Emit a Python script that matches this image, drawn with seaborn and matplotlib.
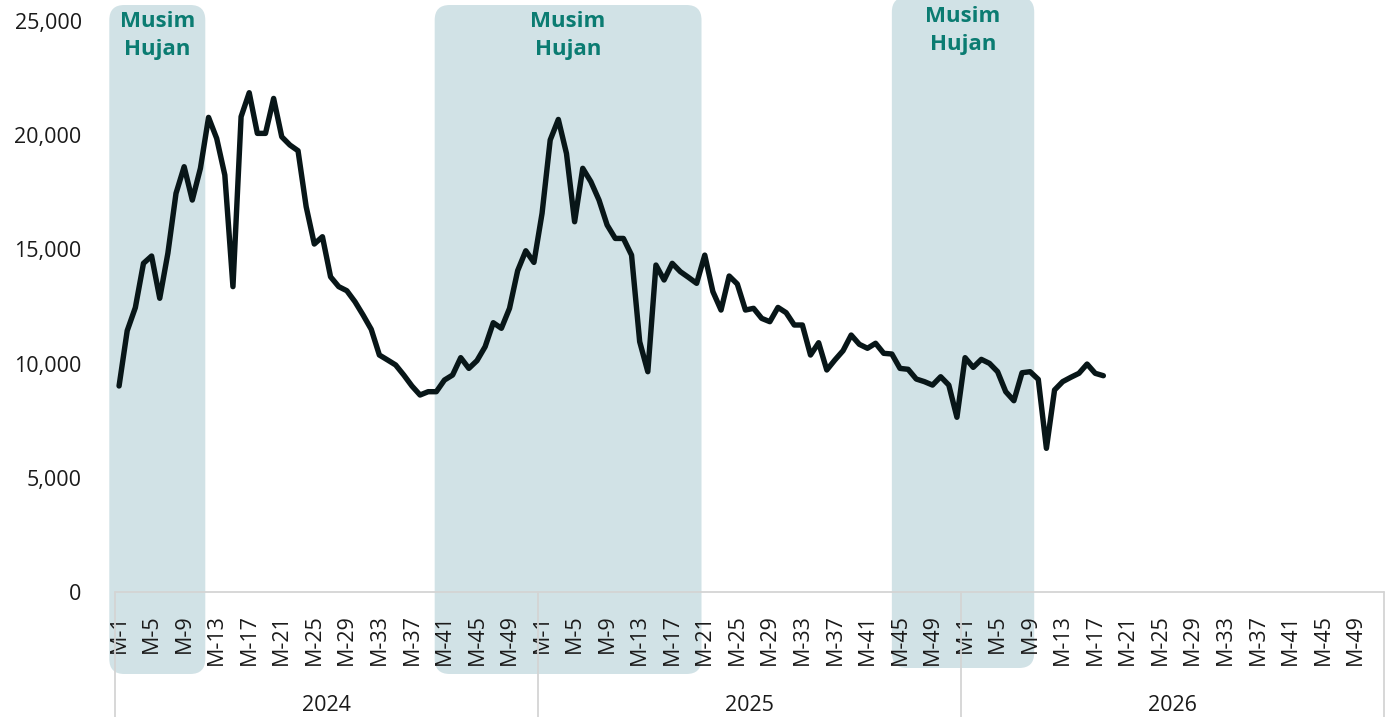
import numpy as np
import pandas as pd
import matplotlib
matplotlib.use("Agg")
import matplotlib.pyplot as plt
import seaborn as sns
from matplotlib.patches import FancyBboxPatch
from matplotlib.transforms import IdentityTransform, blended_transform_factory
from matplotlib.ticker import FuncFormatter

# Weekly values per year (M-1 ... M-52)
years = ["2024", "2025", "2026"]
weeks_per_year = 52
values_2024 = [9020, 11440, 12450, 14390, 14710, 12860, 14830, 17455, 18620, 17160,
               18550, 20780, 19860, 18255, 13370, 20810, 21860, 20080, 20080, 21610,
               19930, 19570, 19320, 16870, 15235, 15555, 13800, 13370, 13190, 12710,
               12125, 11500, 10375, 10160, 9940, 9500, 9020, 8625, 8770, 8770,
               9280, 9500, 10260, 9790, 10130, 10740, 11790, 11545, 12420, 14070,
               14940, 14430]
values_2025 = [16580, 19790, 20690, 19200, 16210, 18550, 17965, 17160, 16065, 15480,
               15480, 14750, 10960, 9645, 14315, 13660, 14390, 14025, 13775, 13515,
               14750, 13150, 12345, 13835, 13485, 12345, 12420, 11980, 11835, 12460,
               12230, 11690, 11690, 10375, 10915, 9720, 10160, 10565, 11250, 10845,
               10670, 10890, 10450, 10420, 9790, 9750, 9325, 9210, 9060, 9425,
               9060, 7650]
values_2026 = [10260, 9835, 10185, 10010, 9645, 8770, 8375, 9600, 9645, 9310,
               6290, 8845, 9210, 9400, 9575, 9980, 9575, 9470]

# Rainy seasons, as spans on the continuous week axis (0 = 2024 M-1)
season_label = "Musim\nHujan"
season_start = [-1.2, 38.8, 95.0]
season_end = [10.6, 71.6, 112.5]

y_ticks = [0, 5000, 10000, 15000, 20000, 25000]
tick_weeks = list(range(1, 50, 4))

values = values_2024 + values_2025 + values_2026
df = pd.DataFrame({"pos": np.arange(len(values)), "value": values})

sns.set_theme(style="white")
plt.rcParams["font.family"] = ["Open Sans", "DejaVu Sans"]

W, H, DPI = 1394, 717, 100
fig = plt.figure(figsize=(W / DPI, H / DPI), dpi=DPI)
ax = fig.add_axes([115 / W, 125 / H, 1269 / W, 571 / H])

n_total = weeks_per_year * len(years)
xlim = (-0.5, n_total - 0.5)
ax.set_xlim(*xlim)
ax.set_ylim(0, 25000)

band_color = "#d1e2e6"
text_color = "#0b7c72"
grid_color = "#d4d4d4"

# Rounded season bands, drawn in pixel space so the corners stay circular
band_tops = [712, 712, 720]
band_bottoms = [43, 43, 49]
text_tops = [706, 706, 711]
for s, e, top, bot, tt in zip(season_start, season_end, band_tops, band_bottoms, text_tops):
    x0 = ax.transData.transform((s, 0))[0]
    x1 = ax.transData.transform((e, 0))[0]
    patch = FancyBboxPatch((x0, bot), x1 - x0, top - bot,
                           boxstyle="round,pad=0,rounding_size=15",
                           transform=IdentityTransform(), facecolor=band_color,
                           edgecolor="none", zorder=0.5, clip_on=False)
    ax.add_patch(patch)
    ax.annotate(season_label, xy=((s + e) / 2, tt),
                xycoords=("data", "figure pixels"), ha="center", va="top",
                fontsize=16, fontweight="bold", color=text_color,
                linespacing=1.45, zorder=4, annotation_clip=False)

sns.lineplot(data=df, x="pos", y="value", ax=ax, color="#081618", linewidth=3.9,
             zorder=3)
for line in ax.get_lines():
    line.set_solid_joinstyle("round")
    line.set_solid_capstyle("round")

ax.set_xlim(*xlim)
ax.set_ylim(0, 25000)

# Category axis frame: baseline plus year separators
blend = blended_transform_factory(ax.transData, ax.transAxes)
ax.plot(list(xlim), [0, 0], transform=blend, color=grid_color, lw=1.3,
        clip_on=False, zorder=1)
bottom_frac = -125 / 571
for k in range(len(years) + 1):
    xb = -0.5 + k * weeks_per_year
    ax.plot([xb, xb], [0, bottom_frac], transform=blend, color=grid_color,
            lw=1.3, clip_on=False, zorder=1)

for k, yr in enumerate(years):
    cx = -0.5 + (k + 0.5) * weeks_per_year
    ax.text(cx, -0.198, yr, transform=blend, ha="center", va="center",
            fontsize=15.5, color="#1a1a1a")

tick_pos = [k * weeks_per_year + w - 1 for k in range(len(years)) for w in tick_weeks]
tick_lab = [f"M-{w}" for k in range(len(years)) for w in tick_weeks]
ax.set_xticks(tick_pos)
ax.set_xticklabels(tick_lab, rotation=90, fontsize=15.5, color="#1a1a1a")
ax.set_yticks(y_ticks)
ax.yaxis.set_major_formatter(FuncFormatter(lambda v, p: f"{int(v):,}"))
ax.tick_params(axis="y", labelsize=15.5, colors="#1a1a1a", length=0, pad=24)
ax.tick_params(axis="x", length=0, pad=16)

ax.set_xlabel("")
ax.set_ylabel("")
for sp in ax.spines.values():
    sp.set_visible(False)
ax.grid(False)

fig.savefig("out.png", dpi=DPI, facecolor="white")
